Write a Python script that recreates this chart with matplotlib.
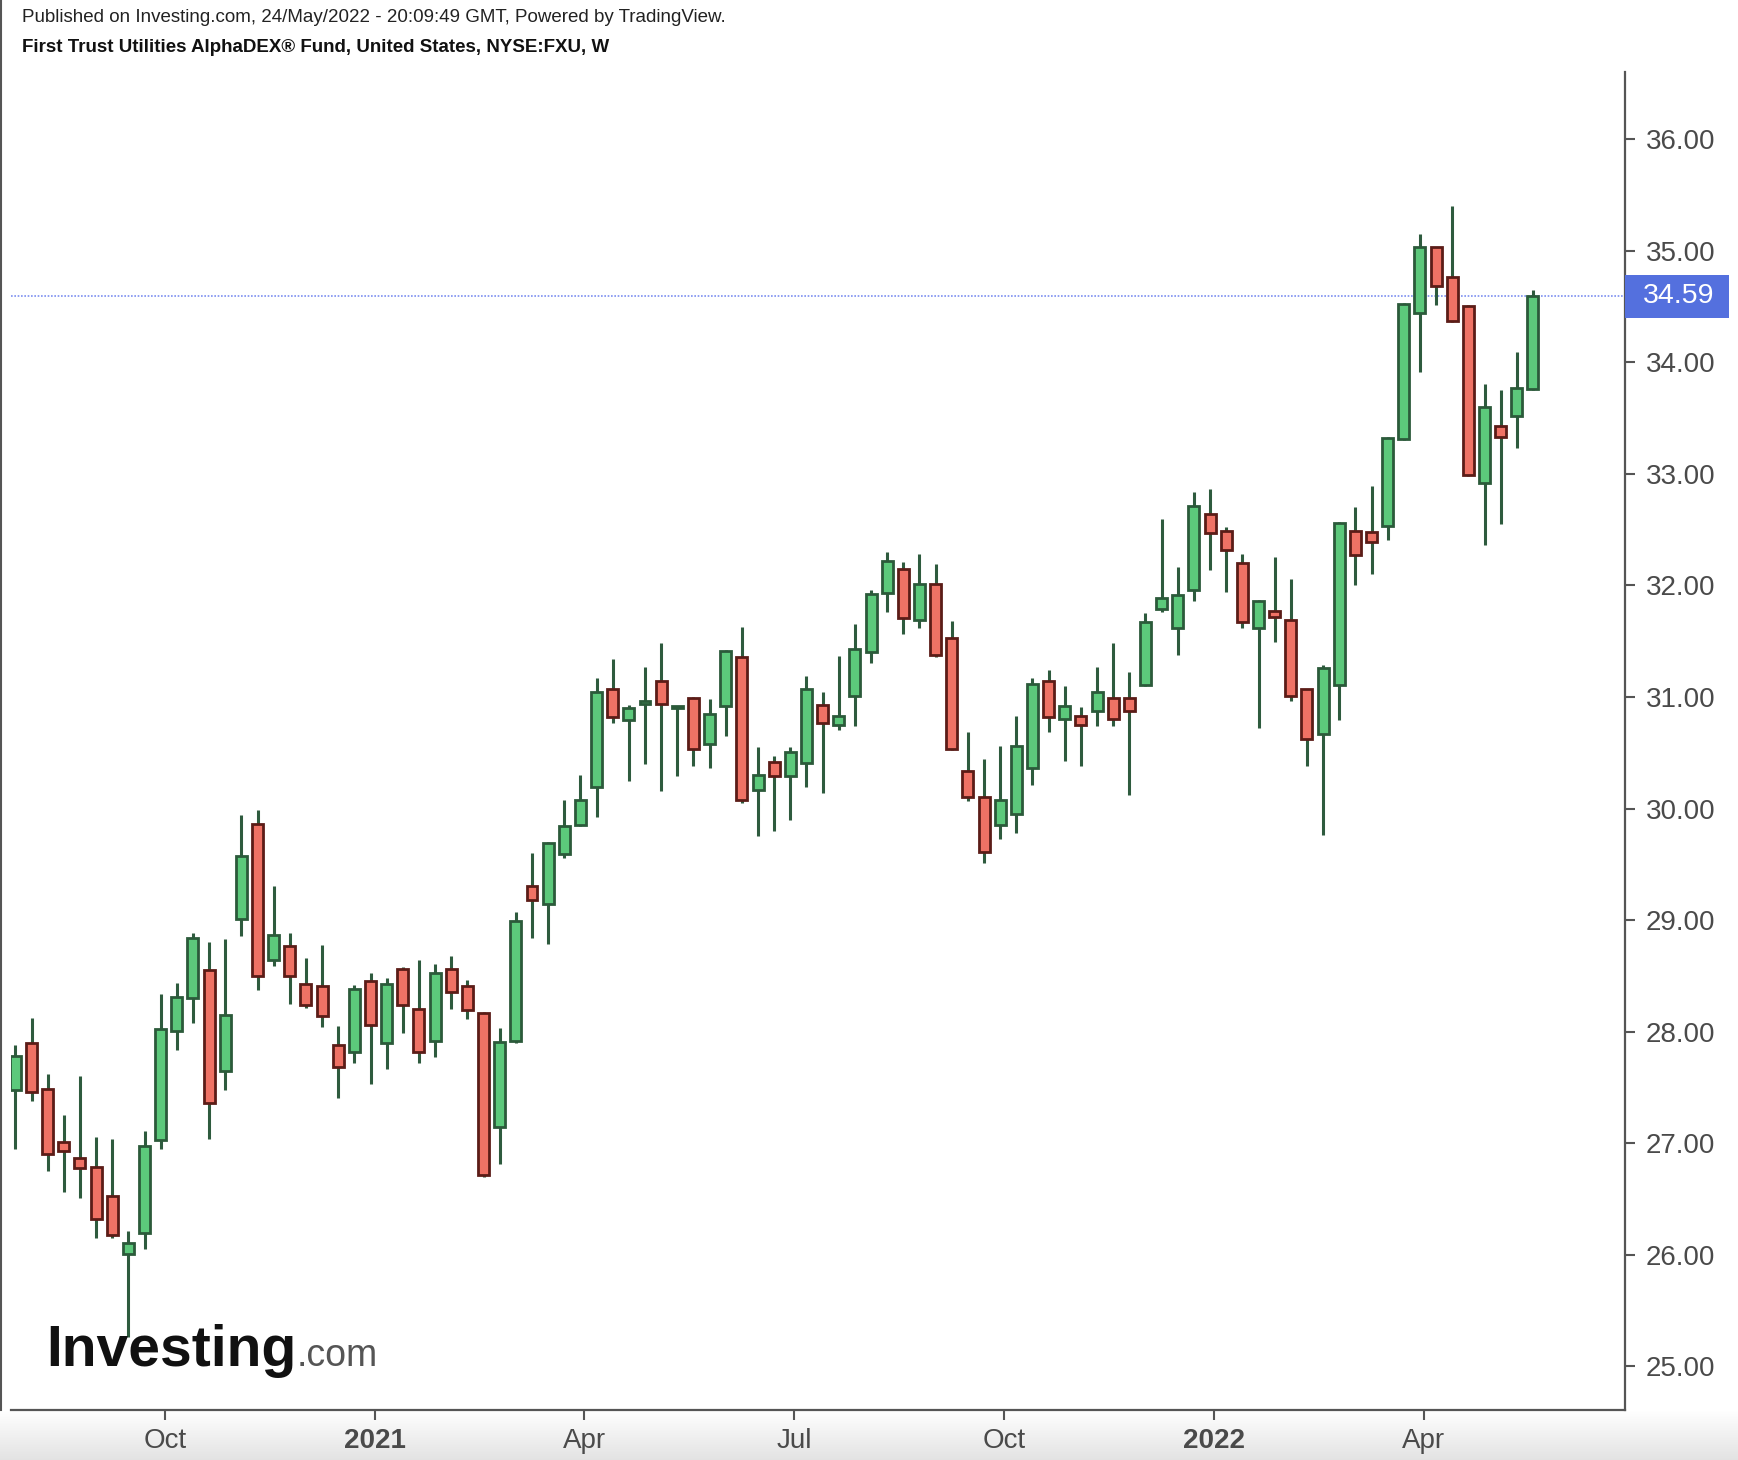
import numpy as np
import pandas as pd
import matplotlib
matplotlib.use("Agg")
import matplotlib.pyplot as plt
from matplotlib.patches import Rectangle
from matplotlib.lines import Line2D
import matplotlib.transforms as mtransforms

plt.rcParams['font.family'] = ['Liberation Sans', 'DejaVu Sans']

# ---------------- data (weekly OHLC, NYSE:FXU) ----------------
start_week = "2020-08-03"
opens = [27.48, 27.90, 27.49, 27.01, 26.87, 26.79, 26.53, 26.01, 26.20, 27.03,
         28.01, 28.30, 28.55, 27.65, 29.01, 29.86, 28.64, 28.77, 28.43, 28.41,
         27.88, 27.82, 28.45, 27.90, 28.56, 28.20, 27.92, 28.56, 28.41, 28.17,
         27.15, 27.92, 29.31, 29.14, 29.59, 29.85, 30.19, 31.07, 30.79, 30.94,
         31.14, 30.90, 30.99, 30.58, 30.92, 31.36, 30.17, 30.42, 30.29, 30.41,
         30.93, 30.75, 31.01, 31.40, 31.93, 32.15, 31.69, 32.01, 31.53, 30.34,
         30.10, 29.85, 29.95, 30.36, 31.14, 30.80, 30.83, 30.87, 30.99, 30.99,
         31.11, 31.79, 31.62, 31.96, 32.64, 32.49, 32.20, 31.62, 31.77, 31.69,
         31.07, 30.67, 31.11, 32.49, 32.48, 32.53, 33.31, 34.44, 35.03, 34.76,
         34.50, 32.92, 33.43, 33.52, 33.76]
highs = [27.88, 28.12, 27.62, 27.25, 27.60, 27.06, 27.04, 26.21, 27.11, 28.34,
         28.44, 28.88, 28.80, 28.83, 29.94, 29.99, 29.31, 28.88, 28.66, 28.78,
         28.05, 28.42, 28.53, 28.48, 28.58, 28.64, 28.61, 28.68, 28.46, 28.18,
         28.03, 29.07, 29.60, 29.70, 30.08, 30.30, 31.17, 31.34, 30.93, 31.27,
         31.48, 30.92, 31.00, 30.98, 31.42, 31.63, 30.55, 30.47, 30.55, 31.19,
         31.04, 31.37, 31.65, 31.96, 32.30, 32.21, 32.28, 32.19, 31.68, 30.69,
         30.44, 30.56, 30.83, 31.17, 31.24, 31.10, 30.91, 31.27, 31.48, 31.22,
         31.75, 32.59, 32.16, 32.84, 32.86, 32.52, 32.28, 31.87, 32.25, 32.06,
         31.07, 31.29, 32.57, 32.70, 32.89, 33.33, 34.53, 35.15, 35.03, 35.40,
         34.51, 33.80, 33.75, 34.09, 34.65]
lows = [26.95, 27.38, 26.75, 26.56, 26.51, 26.15, 26.15, 25.26, 26.05, 26.95,
        27.84, 28.08, 27.04, 27.48, 28.86, 28.37, 28.59, 28.25, 28.21, 28.04,
        27.41, 27.72, 27.53, 27.67, 27.99, 27.72, 27.77, 28.20, 28.11, 26.70,
        26.81, 27.90, 28.84, 28.79, 29.56, 29.84, 29.92, 30.77, 30.25, 30.40,
        30.16, 30.29, 30.38, 30.36, 30.65, 30.05, 29.75, 29.80, 29.90, 30.19,
        30.14, 30.70, 30.74, 31.30, 31.76, 31.56, 31.62, 31.36, 30.52, 30.07,
        29.51, 29.73, 29.78, 30.21, 30.69, 30.43, 30.38, 30.74, 30.74, 30.12,
        31.10, 31.76, 31.38, 31.86, 32.14, 31.94, 31.62, 30.72, 31.49, 30.96,
        30.38, 29.76, 30.79, 32.00, 32.10, 32.41, 33.30, 33.91, 34.51, 34.36,
        32.98, 32.36, 32.55, 33.23, 33.75]
closes = [27.78, 27.46, 26.90, 26.93, 26.78, 26.32, 26.18, 26.11, 26.98, 28.02,
          28.31, 28.84, 27.36, 28.15, 29.57, 28.50, 28.87, 28.50, 28.24, 28.14,
          27.68, 28.38, 28.06, 28.43, 28.24, 27.82, 28.53, 28.36, 28.19, 26.72,
          27.91, 28.99, 29.18, 29.69, 29.84, 30.08, 31.04, 30.82, 30.90, 30.96,
          30.94, 30.91, 30.53, 30.85, 31.41, 30.08, 30.30, 30.29, 30.51, 31.07,
          30.77, 30.83, 31.43, 31.92, 32.22, 31.71, 32.01, 31.38, 30.53, 30.10,
          29.61, 30.08, 30.56, 31.12, 30.82, 30.92, 30.75, 31.04, 30.80, 30.87,
          31.67, 31.89, 31.91, 32.71, 32.47, 32.32, 31.67, 31.86, 31.72, 31.01,
          30.62, 31.26, 32.56, 32.27, 32.39, 33.32, 34.52, 35.03, 34.68, 34.37,
          32.99, 33.60, 33.33, 33.77, 34.59]
last_price = 34.59
y_ticks = [25, 26, 27, 28, 29, 30, 31, 32, 33, 34, 35, 36]
x_tick_months = ["2020-10", "2021-01", "2021-04", "2021-07", "2021-10", "2022-01", "2022-04"]
x_tick_labels = ["Oct", "2021", "Apr", "Jul", "Oct", "2022", "Apr"]
header1 = "Published on Investing.com, 24/May/2022 - 20:09:49 GMT, Powered by TradingView."
header2 = "First Trust Utilities AlphaDEX\u00ae Fund, United States, NYSE:FXU, W"

# ---------------- figure ----------------
W, H = 1738, 1460
fig = plt.figure(figsize=(W / 100, H / 100), dpi=100)
fig.patch.set_facecolor("white")

# bottom gradient band
bg = fig.add_axes([0, 0, 1, (H - 1410) / H], zorder=0)
grad = np.linspace(1.0, 0.89, 50).reshape(-1, 1)
bg.imshow(np.dstack([grad, grad, grad]), aspect="auto", extent=[0, 1, 0, 1])
bg.set_axis_off()

ax_left, ax_right = 11 / W, 1625 / W
ax_bottom, ax_top = 1 - 1410 / H, 1 - 72 / H
ax = fig.add_axes([ax_left, ax_bottom, ax_right - ax_left, ax_top - ax_bottom], zorder=2)
ax.set_facecolor("white")

dates = pd.date_range(start=start_week, periods=len(opens), freq="7D")
x = np.arange(len(opens))
o = np.array(opens); h = np.array(highs); l = np.array(lows); c = np.array(closes)
up = c >= o

green_fill, green_edge = "#5cc97b", "#2b5a3a"
red_fill, red_edge = "#ef7265", "#5b1c17"
wick_col = "#2e5b3e"

ax.vlines(x, l, h, color=wick_col, linewidth=2.2, zorder=3)
bottoms = np.minimum(o, c)
heights = np.maximum(np.abs(c - o), 0.02)
ax.bar(x[up], heights[up], bottom=bottoms[up], width=0.68,
       color=green_fill, edgecolor=green_edge, linewidth=2.0, zorder=4)
ax.bar(x[~up], heights[~up], bottom=bottoms[~up], width=0.68,
       color=red_fill, edgecolor=red_edge, linewidth=2.0, zorder=4)

ax.set_xlim(-0.27, 99.7)
ax.set_ylim(24.61, 36.6)

# last price line
ax.axhline(last_price, color="#7b8ff0", linestyle=(0, (1, 1)), linewidth=1.2, zorder=2)

# spines
for s in ["top", "left"]:
    ax.spines[s].set_visible(False)
for s in ["right", "bottom"]:
    ax.spines[s].set_color("#555555")
    ax.spines[s].set_linewidth(1.6)

ax.yaxis.tick_right()
ax.set_yticks(y_ticks)
ax.set_yticklabels([f"{v:.2f}" for v in y_ticks])
ax.tick_params(axis="y", direction="out", length=7, width=1.5, colors="#555555",
               labelcolor="#4a4a4a", labelsize=20, pad=8)

tick_pos = []
for m in x_tick_months:
    mstart = pd.Timestamp(m + "-01")
    tick_pos.append(int(np.argmax(dates >= mstart)) + 0.25)
ax.set_xticks(tick_pos)
ax.set_xticklabels(x_tick_labels)
ax.tick_params(axis="x", direction="out", length=7, width=1.5, colors="#555555",
               labelcolor="#4a4a4a", labelsize=20, pad=6)
for lbl in ax.get_xticklabels():
    if lbl.get_text().isdigit():
        lbl.set_fontweight("bold")

# price label box on the axis
trans = mtransforms.blended_transform_factory(ax.transAxes, ax.transData)
box_w = (1729 - 1625) / (1625 - 11)
box_h = 0.38
ax.add_patch(Rectangle((1.0, last_price - box_h / 2), box_w, box_h, transform=trans,
                       facecolor="#5470de", edgecolor="none", clip_on=False, zorder=6))
ax.text(1.0 + box_w / 2 + 0.001, last_price, f"{last_price:.2f}", transform=trans,
        ha="center", va="center", color="white", fontsize=20.5, zorder=7, clip_on=False)

# header texts
fig.text(22 / W, 1 - 17 / H, header1, fontsize=13.5, color="#222222", va="center", ha="left")
fig.text(22 / W, 1 - 48 / H, header2, fontsize=13.5, color="#111111", va="center", ha="left",
         fontweight="bold")

# left border
fig.add_artist(Line2D([1 / W, 1 / W], [ax_bottom, 1], transform=fig.transFigure,
                      color="#555555", linewidth=1.5))

# Investing.com logo
t1 = fig.text(46 / W, 1 - 1366 / H, "Investing", fontsize=41, fontweight="bold",
              color="#111111", va="baseline", ha="left", zorder=5)
fig.canvas.draw()
bb = t1.get_window_extent()
fig.text(bb.x1 / W + 0.0005, 1 - 1366 / H, ".com", fontsize=27, color="#555555",
         va="baseline", ha="left", zorder=5)

fig.savefig("out.png", dpi=100, facecolor="white")
